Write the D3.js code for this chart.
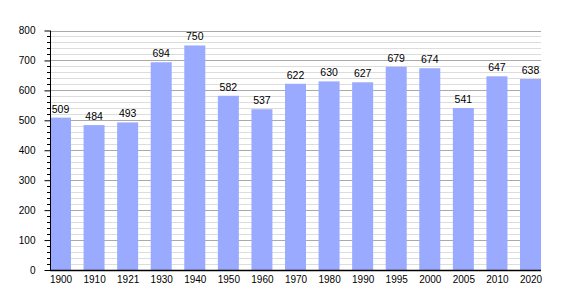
<!DOCTYPE html>
<html><head><meta charset="utf-8">
<script src="https://cdn.jsdelivr.net/npm/d3@7"></script>
<style>body{margin:0;background:#fff}svg{display:block}</style>
</head><body>
<script>
const years = ["1900","1910","1921","1930","1940","1950","1960","1970","1980","1990","1995","2000","2005","2010","2020"];
const population = [509,484,493,694,750,582,537,622,630,627,679,674,541,647,638];
const yTicks = [0,100,200,300,400,500,600,700,800];

const W = 570, H = 300;
const mLeft = 50, mRight = 541, mTop = 30.5, mBottom = 270;
const barW = 21;
const FONT = "'Liberation Sans', Arial, sans-serif";
const svg = d3.select("body").append("svg").attr("width", W).attr("height", H)
  .style("font-family", FONT);

const y = d3.scaleLinear().domain([0, 800]).range([mBottom, mTop]);
const x = d3.scalePoint().domain(years).range([mLeft + barW/2, mRight - barW/2]);

const minor = d3.range(0, 801, 20);
svg.append("g").selectAll("line").data(minor.filter(v => v % 100 !== 0)).join("line")
  .attr("x1", mLeft).attr("x2", mRight)
  .attr("y1", d => Math.round(y(d)) + 0.5).attr("y2", d => Math.round(y(d)) + 0.5)
  .attr("stroke", "#dddddd").attr("stroke-width", 1);
svg.append("g").selectAll("line").data(yTicks.filter(v => v > 0)).join("line")
  .attr("x1", mLeft).attr("x2", mRight)
  .attr("y1", d => Math.round(y(d)) + 0.5).attr("y2", d => Math.round(y(d)) + 0.5)
  .attr("stroke", "#aaaaaa").attr("stroke-width", 1);

svg.append("g").selectAll("rect").data(population).join("rect")
  .attr("x", (d, i) => x(years[i]) - barW/2)
  .attr("width", barW)
  .attr("y", d => y(d))
  .attr("height", d => y(0) - y(d))
  .attr("fill", "#99aaff");

svg.append("g").selectAll("text").data(population).join("text")
  .attr("x", (d, i) => x(years[i]))
  .attr("y", d => y(d) - 5)
  .attr("text-anchor", "middle")
  .attr("font-size", 10.5).attr("fill", "#000")
  .text(d => d);

const yAxis = d3.axisLeft(y).tickValues(yTicks).tickSize(5.5).tickPadding(9);
const gy = svg.append("g").attr("transform", `translate(${mLeft},0)`).call(yAxis);
gy.select(".domain").remove();
gy.selectAll("text").attr("font-size", 10).attr("font-family", FONT).attr("fill", "#000");
gy.selectAll("line").attr("stroke", "#000");
svg.append("g").selectAll("line").data(minor.filter(v => v % 100 !== 0)).join("line")
  .attr("x1", mLeft - 3).attr("x2", mLeft)
  .attr("y1", d => Math.round(y(d)) + 0.5).attr("y2", d => Math.round(y(d)) + 0.5)
  .attr("stroke", "#000");
svg.append("line").attr("x1", mLeft + 0.5).attr("x2", mLeft + 0.5).attr("y1", mTop).attr("y2", mBottom)
  .attr("stroke", "#000");

const xAxis = d3.axisBottom(x).tickSize(0).tickPadding(6);
const gx = svg.append("g").attr("transform", `translate(0,${mBottom})`).call(xAxis);
gx.select(".domain").remove();
gx.selectAll("text").attr("font-size", 10).attr("font-family", FONT).attr("fill", "#000");
svg.append("line").attr("x1", mLeft).attr("x2", mRight).attr("y1", mBottom + 0.5).attr("y2", mBottom + 0.5)
  .attr("stroke", "#000").attr("stroke-width", 1.5);
</script>
</body></html>
